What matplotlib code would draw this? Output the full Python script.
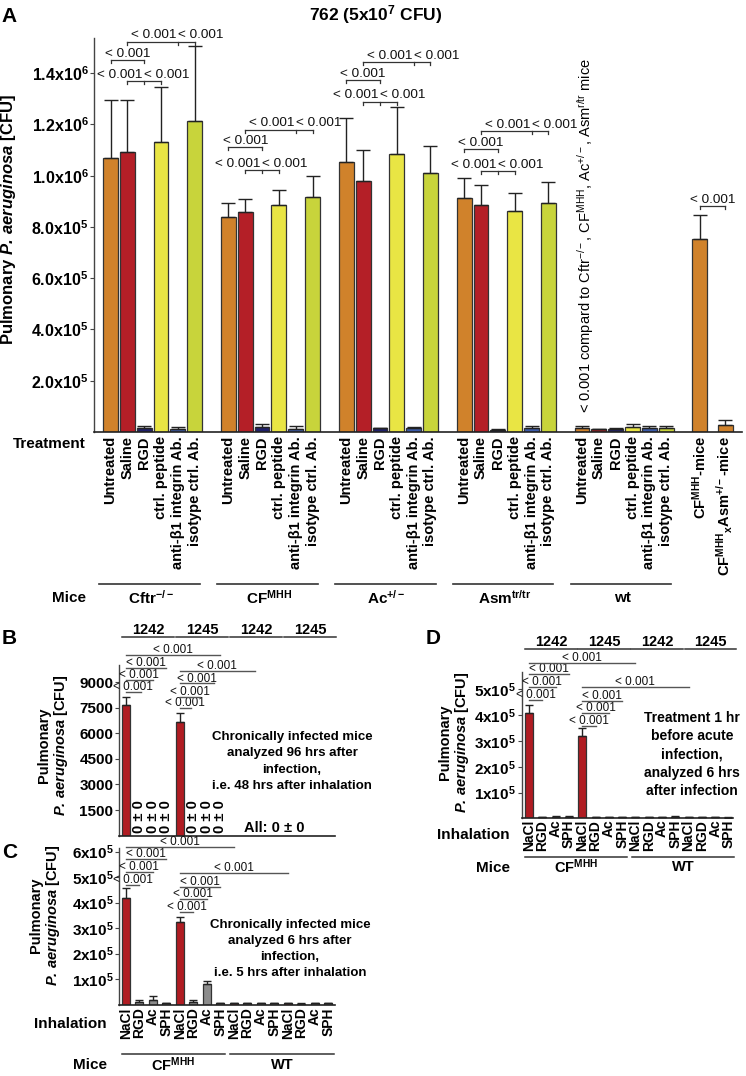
import numpy as np
import matplotlib
matplotlib.use('Agg')
import matplotlib.pyplot as plt
from matplotlib.transforms import blended_transform_factory

# ---------------- data ----------------
treatments = ['Untreated', 'Saline', 'RGD', 'ctrl. peptide',
              'anti-β1 integrin Ab.', 'isotype ctrl. Ab.']
treat_colors = ['#D0822B', '#B41F27', '#1F1F6A', '#E9E544', '#3C5BA9', '#C8D43B']
mouse_groups_a = [r'Cftr$^{\mathbf{-/-}}$', r'CF$^{\mathbf{MHH}}$', r'Ac$^{\mathbf{+/-}}$',
                  r'Asm$^{\mathbf{tr/tr}}$', 'wt']

cftr_mean = [1.070e6, 1.093e6, 0.017e6, 1.132e6, 0.010e6, 1.214e6]
cftr_sem = [0.225e6, 0.204e6, 0.006e6, 0.215e6, 0.010e6, 0.293e6]
cf_mean = [0.839e6, 0.859e6, 0.018e6, 0.885e6, 0.013e6, 0.917e6]
cf_sem = [0.056e6, 0.050e6, 0.015e6, 0.058e6, 0.012e6, 0.081e6]
ac_mean = [1.053e6, 0.981e6, 0.014e6, 1.083e6, 0.017e6, 1.012e6]
ac_sem = [0.170e6, 0.119e6, 0.003e6, 0.183e6, 0.003e6, 0.103e6]
asm_mean = [0.911e6, 0.886e6, 0.009e6, 0.863e6, 0.017e6, 0.894e6]
asm_sem = [0.078e6, 0.076e6, 0.003e6, 0.070e6, 0.006e6, 0.081e6]
wt_mean = [0.016e6, 0.010e6, 0.013e6, 0.020e6, 0.017e6, 0.017e6]
wt_sem = [0.006e6, 0.003e6, 0.002e6, 0.010e6, 0.005e6, 0.005e6]

cross_labels = [r'CF$^{\mathbf{MHH}}$-mice',
                r'CF$^{\mathbf{MHH}}{}_{\mathbf{x}}$Asm$^{\mathbf{+/-}}$-mice']
cross_mean = [0.751e6, 0.026e6]
cross_sem = [0.095e6, 0.020e6]

a_yticks = [2e5, 4e5, 6e5, 8e5, 1.0e6, 1.2e6, 1.4e6]
a_yticklabels = [r'2.0x10$^{\mathbf{5}}$', r'4.0x10$^{\mathbf{5}}$', r'6.0x10$^{\mathbf{5}}$',
                 r'8.0x10$^{\mathbf{5}}$', r'1.0x10$^{\mathbf{6}}$', r'1.2x10$^{\mathbf{6}}$',
                 r'1.4x10$^{\mathbf{6}}$']

p_label = '< 0.001'
# bracket heights for panel A (per mouse group, Cftr, CF, Ac, Asm)
a_top_y = [1.522e6, 1.180e6, 1.442e6, 1.174e6]
a_mid_y = [1.451e6, 1.111e6, 1.373e6, 1.103e6]
a_low_y = [1.369e6, 1.021e6, 1.288e6, 1.018e6]
a_cross_y = 0.881e6

inhalation = ['NaCl', 'RGD', 'Ac', 'SPH']
strains = ['1242', '1245', '1242', '1245']
mice_bcd = [r'CF$^{\mathbf{MHH}}$', 'WT']

b_mean = [7650, 0, 0, 0, 6675, 0, 0, 0, 0, 0, 0, 0, 0, 0, 0, 0]
b_sem = [490, 0, 0, 0, 495, 0, 0, 0, 0, 0, 0, 0, 0, 0, 0, 0]
b_yticks = [1500, 3000, 4500, 6000, 7500, 9000]
b_brackets = [(0, 7, 10582), (0, 3, 9820), (0, 2, 9117), (0, 1.1, 8414),
              (4, 9.55, 9645), (4, 6.5, 8924), (4, 5.5, 8139), (4, 4.8, 7477)]

c_mean = [4.16e5, 0.11e5, 0.18e5, 0.06e5, 3.25e5, 0.11e5, 0.80e5, 0.05e5,
          0.04e5, 0.04e5, 0.04e5, 0.05e5, 0.05e5, 0.03e5, 0.04e5, 0.05e5]
c_sem = [0.40e5, 0.06e5, 0.15e5, 0.01e5, 0.17e5, 0.06e5, 0.13e5, 0.01e5,
         0.01e5, 0.01e5, 0.01e5, 0.01e5, 0.01e5, 0.01e5, 0.01e5, 0.01e5]
c_brackets = [(0, 8, 6.18e5), (0, 3, 5.71e5), (0, 2, 5.21e5), (0, 1, 4.69e5),
              (4, 12, 5.16e5), (4, 7, 4.62e5), (4, 6, 4.14e5), (4, 5, 3.64e5)]

d_mean = [4.10e5, 0.05e5, 0.06e5, 0.06e5, 3.20e5, 0.05e5, 0.04e5, 0.04e5,
          0.05e5, 0.05e5, 0.04e5, 0.06e5, 0.05e5, 0.05e5, 0.04e5, 0.03e5]
d_sem = [0.30e5, 0.01e5, 0.01e5, 0.01e5, 0.29e5, 0.01e5, 0.01e5, 0.01e5,
         0.01e5, 0.01e5, 0.01e5, 0.01e5, 0.01e5, 0.01e5, 0.01e5, 0.01e5]
d_brackets = [(0, 8, 6.04e5), (0, 3, 5.60e5), (0, 2, 5.09e5), (0, 1, 4.59e5),
              (4, 12, 5.09e5), (4, 7, 4.57e5), (4, 6, 4.09e5), (4, 5, 3.58e5)]
cd_yticks = [1e5, 2e5, 3e5, 4e5, 5e5, 6e5]
cd_yticklabels = [r'1x10$^{\mathbf{5}}$', r'2x10$^{\mathbf{5}}$', r'3x10$^{\mathbf{5}}$',
                  r'4x10$^{\mathbf{5}}$', r'5x10$^{\mathbf{5}}$', r'6x10$^{\mathbf{5}}$']

# ---------------- style ----------------
plt.rcParams['font.family'] = ['Liberation Sans', 'DejaVu Sans']
plt.rcParams['mathtext.fontset'] = 'custom'
plt.rcParams['mathtext.rm'] = 'Liberation Sans'
plt.rcParams['mathtext.it'] = 'Liberation Sans:italic'
plt.rcParams['mathtext.bf'] = 'Liberation Sans:bold'
try:
    plt.rcParams['mathtext.bfit'] = 'Liberation Sans:bold:italic'
except KeyError:
    pass

W, H = 746, 1076
fig = plt.figure(figsize=(W / 100, H / 100), dpi=100)
fig.patch.set_facecolor('white')

NaCl_red = '#B01C22'
grey_bar = '#8C8C8C'
edge = '#333333'


def rect(l, t, r, b):
    return [l / W, 1 - b / H, (r - l) / W, (b - t) / H]


def ftxt(x, y, s, **kw):
    return fig.text(x / W, 1 - y / H, s, **kw)


def style_axes(ax):
    for s in ['top', 'right']:
        ax.spines[s].set_visible(False)
    ax.spines['left'].set_color('#444444')
    ax.spines['bottom'].set_color('#222222')
    ax.spines['left'].set_linewidth(1.0)
    ax.spines['bottom'].set_linewidth(1.2)
    ax.tick_params(axis='y', direction='out', length=3, width=0.8, color='#444444', pad=1)
    ax.tick_params(axis='x', length=0)


def hline_fig(ax, x0, x1, py, **kw):
    tr = blended_transform_factory(ax.transData, fig.transFigure)
    ax.plot([x0, x1], [1 - py / H, 1 - py / H], transform=tr, clip_on=False, **kw)


def text_fig(ax, x, py, s, **kw):
    tr = blended_transform_factory(ax.transData, fig.transFigure)
    ax.text(x, 1 - py / H, s, transform=tr, **kw)


# ================= Panel A =================
axA = fig.add_axes(rect(94, 38, 742, 432))
style_axes(axA)
groups_a = [(cftr_mean, cftr_sem), (cf_mean, cf_sem), (ac_mean, ac_sem),
            (asm_mean, asm_sem), (wt_mean, wt_sem)]
xticks_a, xlabels_a = [], []
for g, (m, s) in enumerate(groups_a):
    x = g * 7 + np.arange(len(m))
    axA.bar(x, m, width=0.88, color=treat_colors, edgecolor=edge, linewidth=0.9, zorder=2)
    axA.errorbar(x, m, yerr=[np.zeros(len(s)), s], fmt='none', ecolor='#222222',
                 elinewidth=1.0, capsize=5, capthick=1.0, zorder=3)
    xticks_a += list(x)
    xlabels_a += treatments
xc = np.array([35, 36.5])
axA.bar(xc, cross_mean, width=0.88, color=treat_colors[0], edgecolor=edge, linewidth=0.9, zorder=2)
axA.errorbar(xc, cross_mean, yerr=[np.zeros(2), cross_sem], fmt='none', ecolor='#222222',
             elinewidth=1.0, capsize=5, capthick=1.0, zorder=3)
xticks_a += list(xc)
xlabels_a += cross_labels

axA.set_xlim(-0.98, 37.5)
axA.set_ylim(0, 1.537e6)
axA.set_yticks(a_yticks)
axA.set_yticklabels(a_yticklabels, fontsize=11.5, fontweight='bold')
axA.set_xticks(xticks_a)
axA.set_xticklabels(xlabels_a, rotation=90, fontsize=10.5, fontweight='bold', va='top', ha='center')
axA.tick_params(axis='x', pad=3)
axA.set_ylabel(r'Pulmonary $\mathbfit{P.\,aeruginosa}$ [CFU]', fontsize=12,
               fontweight='bold')
axA.yaxis.set_label_coords(-0.118, 0.54)

ftxt(9, 16, 'A', fontsize=15, fontweight='bold', ha='center', va='center')
ftxt(376, 15, r'762 (5x10$^{\mathbf{7}}$ CFU)', fontsize=12.5, fontweight='bold',
     ha='center', va='center')
ftxt(49, 444, 'Treatment', fontsize=11, fontweight='bold', ha='center', va='center')
ftxt(69, 598, 'Mice', fontsize=11, fontweight='bold', ha='center', va='center')
for g, lab in enumerate(mouse_groups_a):
    hline_fig(axA, g * 7 - 0.68, g * 7 + 5.3, 584, color='#333333', lw=1.2)
    text_fig(axA, g * 7 + 2.4, 598, lab, fontsize=11, fontweight='bold', ha='center', va='center')

tick_a = 0.012e6


def bracket_a(x0, x1, y, xm=None):
    kw = dict(color='#333333', lw=0.9, clip_on=False, zorder=4)
    axA.plot([x0, x1], [y, y], **kw)
    for xx in [x0, x1] + ([xm] if xm is not None else []):
        axA.plot([xx, xx], [y, y - tick_a], **kw)
    tk = dict(textcoords='offset points', va='baseline', fontsize=9.7,
              annotation_clip=False, color='#111111')
    if xm is None:
        axA.annotate(p_label, (0.5 * (x0 + x1), y), xytext=(0, 2.5), ha='center', **tk)
    else:
        axA.annotate(p_label, (xm, y), xytext=(-1, 2.5), ha='right', **tk)
        axA.annotate(p_label, (xm, y), xytext=(0, 2.5), ha='left', **tk)


for g in range(4):
    b = g * 7
    bracket_a(b + 1, b + 5, a_top_y[g], xm=b + 4)
    bracket_a(b + 0, b + 2, a_mid_y[g])
    bracket_a(b + 1, b + 3, a_low_y[g], xm=b + 2)
bracket_a(35, 36.5, a_cross_y)

ftxt(586, 413, r'< 0.001 compard to Cftr$^{-/-}$, CF$^{\mathrm{MHH}}$, Ac$^{+/-}$, '
     r'Asm$^{\mathrm{r/tr}}$ mice', fontsize=10.5, rotation=90, ha='center', va='bottom')


# ================= helpers B/C/D =================
def small_panel(r, mean, sem, ylim, xlim, yticks, yticklabels):
    ax = fig.add_axes(r)
    style_axes(ax)
    x = np.arange(len(mean))
    cols = [NaCl_red if i % 4 == 0 else grey_bar for i in range(len(mean))]
    m = np.array(mean, dtype=float)
    s = np.array(sem, dtype=float)
    show = m > 0
    ax.bar(x[show], m[show], width=0.58, color=[c for c, v in zip(cols, show) if v],
           edgecolor=edge, linewidth=0.9, zorder=2)
    ax.errorbar(x[show], m[show], yerr=[np.zeros(show.sum()), s[show]], fmt='none',
                ecolor='#222222', elinewidth=1.0, capsize=2.8, capthick=1.0, zorder=3)
    ax.set_xlim(*xlim)
    ax.set_ylim(*ylim)
    ax.set_yticks(yticks)
    ax.set_yticklabels(yticklabels, fontsize=11, fontweight='bold')
    ax.set_xticks(x)
    ax.set_xticklabels([])
    return ax


def brackets_small(ax, brs):
    for x0, x1, y in brs:
        ax.plot([x0, x1], [y, y], color='#555555', lw=1.0, clip_on=False, zorder=4)
        ax.annotate(p_label, (0.5 * (x0 + x1), y), xytext=(0, 1.2), textcoords='offset points',
                    ha='center', va='baseline', fontsize=8.5, annotation_clip=False,
                    color='#111111')


def headers(ax, py):
    for k, st in enumerate(strains):
        hline_fig(ax, 4 * k - 0.3, 4 * k + 3.6, py, color='#333333', lw=1.1)
        text_fig(ax, 4 * k + 1.65, py - 0.5, st, fontsize=10.5, fontweight='bold',
                 ha='center', va='bottom')


def mice_row(ax, py_line, py_text, label_x, label_y, inh_x, inh_y):
    for k, lab in enumerate(mice_bcd):
        x0 = -0.3 if k == 0 else 7.75
        x1 = 7.35 if k == 0 else 15.4
        hline_fig(ax, x0, x1, py_line, color='#333333', lw=1.1)
        text_fig(ax, 0.5 * (x0 + x1), py_text, lab, fontsize=10.5, fontweight='bold',
                 ha='center', va='center')
    ftxt(label_x, label_y, 'Mice', fontsize=11, fontweight='bold', ha='center', va='center')
    ftxt(inh_x, inh_y, 'Inhalation', fontsize=11, fontweight='bold', ha='center', va='center')


ylab2 = 'Pulmonary\n' + r'$\mathbfit{P.\,aeruginosa}$ [CFU]'

# ================= Panel B =================
axB = small_panel(rect(119, 665, 335, 835.6), b_mean, b_sem, (0, 10000), (-0.5, 15.5),
                  b_yticks, [str(v) for v in b_yticks])
axB.set_ylabel(ylab2, fontsize=10.5, fontweight='bold', linespacing=1.05)
axB.yaxis.set_label_coords(-0.228, 0.53)
for i in range(8):
    if b_mean[i] == 0:
        axB.annotate('0 ± 0', (i, 0), xytext=(0, 2), textcoords='offset points', rotation=90,
                     ha='center', va='bottom', fontsize=10.5, fontweight='bold')
brackets_small(axB, b_brackets)
headers(axB, 637)
ftxt(9, 638, 'B', fontsize=15, fontweight='bold', ha='center', va='center')
ftxt(274, 828, 'All: 0 ± 0', fontsize=10.5, fontweight='bold', ha='center', va='center')
ftxt(292, 761.5, 'Chronically infected mice\nanalyzed 96 hrs after\ninfection,\n'
     'i.e. 48 hrs after inhalation', fontsize=9.5, fontweight='bold', ha='center',
     va='center', linespacing=1.45)

# ================= Panel C =================
axC = small_panel(rect(119, 848, 335, 1004.5), c_mean, c_sem, (0, 6.14e5), (-0.5, 15.5),
                  cd_yticks, cd_yticklabels)
axC.set_xticklabels(inhalation * 4, rotation=90, fontsize=10, fontweight='bold',
                    va='top', ha='center')
axC.tick_params(axis='x', pad=2)
axC.set_ylabel(ylab2, fontsize=10.5, fontweight='bold', linespacing=1.05)
axC.yaxis.set_label_coords(-0.265, 0.57)
brackets_small(axC, c_brackets)
ftxt(10, 852, 'C', fontsize=15, fontweight='bold', ha='center', va='center')
mice_row(axC, 1054, 1065, 90, 1065, 70, 1024)
ftxt(290, 949, 'Chronically infected mice\nanalyzed 6 hrs after\ninfection,\n'
     'i.e. 5 hrs after inhalation', fontsize=9.5, fontweight='bold', ha='center',
     va='center', linespacing=1.45)

# ================= Panel D =================
axD = small_panel(rect(521.7, 671.7, 733, 818.3), d_mean, d_sem, (0, 5.69e5), (-0.55, 15.34),
                  cd_yticks[:5], cd_yticklabels[:5])
axD.set_xticklabels(inhalation * 4, rotation=90, fontsize=10, fontweight='bold',
                    va='top', ha='center')
axD.tick_params(axis='x', pad=1)
axD.set_ylabel(ylab2, fontsize=10.5, fontweight='bold', linespacing=1.05)
axD.yaxis.set_label_coords(-0.24, 0.52)
brackets_small(axD, d_brackets)
headers(axD, 649.3)
ftxt(433, 638, 'D', fontsize=15, fontweight='bold', ha='center', va='center')
mice_row(axD, 856.7, 867, 493, 868, 473, 835)
ftxt(692, 754.5, 'Treatment 1 hr\nbefore acute\ninfection,\nanalyzed 6 hrs\nafter infection',
     fontsize=10, fontweight='bold', ha='center', va='center', linespacing=1.4)

fig.savefig('out.png', dpi=100)
